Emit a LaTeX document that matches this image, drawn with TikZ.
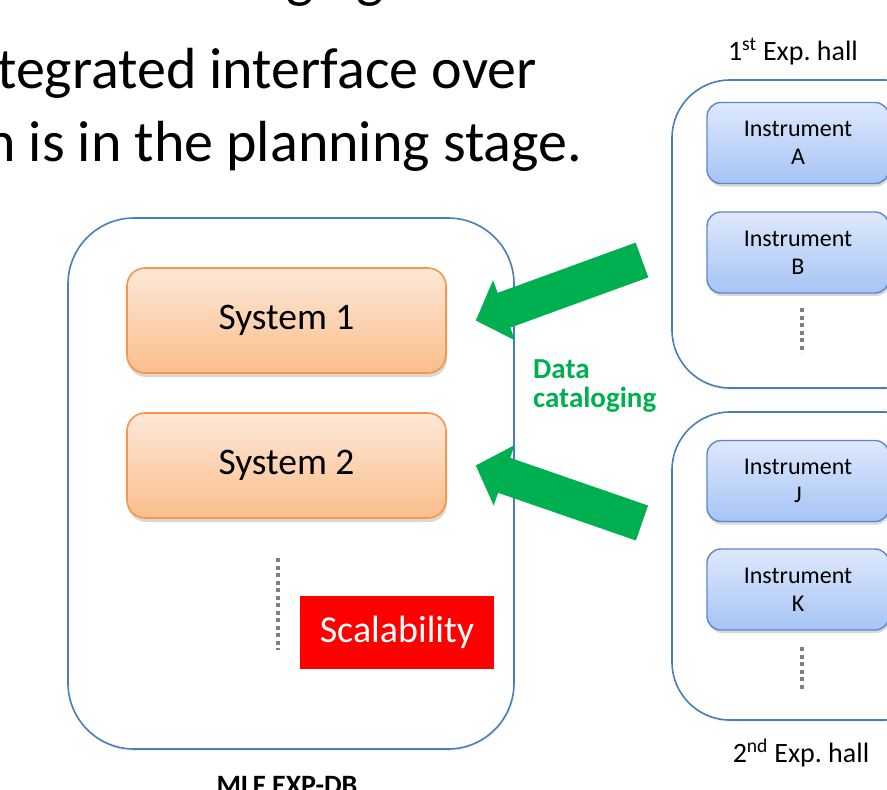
\documentclass[tikz,border=0pt]{standalone}
\usepackage{fontspec}
\setmainfont{Carlito}
\usetikzlibrary{calc,shadows}

\definecolor{hallblue}{RGB}{74,126,187}
\definecolor{sysline}{RGB}{247,150,70}
\definecolor{systop}{RGB}{253,232,216}
\definecolor{sysbot}{RGB}{250,190,140}
\definecolor{instline}{RGB}{95,135,200}
\definecolor{insttop}{RGB}{222,232,252}
\definecolor{instbot}{RGB}{166,196,245}
\definecolor{datagreen}{RGB}{0,176,80}
\definecolor{dotgray}{RGB}{128,128,128}

\tikzset{
  hall/.style={draw=hallblue, line width=1.6pt, fill=white, rounded corners=58pt,
    drop shadow={opacity=0.12, shadow xshift=1pt, shadow yshift=-2pt}},
  sysbox/.style={draw=sysline, line width=1.6pt, rounded corners=18pt,
    top color=systop, bottom color=sysbot, minimum width=319pt, minimum height=105pt,
    font=\fontsize{37.5}{40}\selectfont,
    drop shadow={opacity=0.3, shadow xshift=1pt, shadow yshift=-4pt}},
  instbox/.style={draw=instline, line width=1.4pt, rounded corners=14pt,
    top color=insttop, bottom color=instbot, minimum width=182pt, minimum height=81pt,
    align=center, font=\fontsize{24}{28}\selectfont,
    drop shadow={opacity=0.3, shadow xshift=1pt, shadow yshift=-3pt}},
  dots/.style={draw=dotgray, line width=3.5pt, dash pattern=on 4pt off 3.5pt},
  caption/.style={font=\fontsize{28}{32}\selectfont, anchor=base},
  bigtext/.style={font=\fontsize{58}{74}\selectfont, anchor=base west, inner sep=0pt},
  cattext/.style={text=datagreen, font=\bfseries\fontsize{29}{29}\selectfont,
    anchor=base west, inner sep=0pt},
}

% green block arrow from #1 (tail) to #2 (tip)
\newcommand{\catarrow}[2]{%
  \fill[datagreen] (#2)
    -- ($(#2)!30pt!(#1)!32pt!90:(#1)$)
    -- ($(#2)!30pt!(#1)!18.5pt!90:(#1)$)
    -- ($(#1)!18.5pt!-90:(#2)$)
    -- ($(#1)!18.5pt!90:(#2)$)
    -- ($(#2)!30pt!(#1)!18.5pt!-90:(#1)$)
    -- ($(#2)!30pt!(#1)!32pt!-90:(#1)$)
    -- cycle;}

\begin{document}
\begin{tikzpicture}[x=1pt, y=-1pt]
  \useasboundingbox (0,0) rectangle (887,790);
  \clip (0,0) rectangle (887,790);

  % --- slide text ---
  \node[bigtext] (gl) at (286,-4) {g};
  \node[bigtext] (gr) at (356,-4) {g};
  \node[bigtext] (line1) at (-3,88) {tegrated interface over};
  \node[bigtext] (line2) at (-15,161) {n is in the planning stage.};

  % --- MLF EXP-DB ---
  \node[hall, minimum width=446pt, minimum height=531pt, rounded corners=66pt] (expdb) at (291,483.5) {};
  \node[caption, font=\bfseries\fontsize{28}{32}\selectfont] (expdblbl) at (287,794) {MLF EXP-DB};
  \node[sysbox] (sys1) at (286.5,320.5) {System 1};
  \node[sysbox] (sys2) at (286.5,465.5) {System 2};
  \draw[dots] (278,558) -- (278,650);
  \node[fill=red, minimum width=194pt, minimum height=73pt, text=white,
        font=\fontsize{38}{40}\selectfont] (scal) at (397,632.5) {Scalability};

  % --- 1st Exp. hall ---
  \node[hall, minimum width=270pt, minimum height=308pt] (hall1) at (807,234) {};
  \node[caption] (hall1lbl) at (793,60) {1\textsuperscript{st} Exp.\ hall};
  \node[instbox] (instA) at (798,143) {Instrument\\A};
  \node[instbox] (instB) at (798,252.5) {Instrument\\B};
  \draw[dots] (802,308) -- (802,353);

  % --- 2nd Exp. hall ---
  \node[hall, minimum width=270pt, minimum height=308pt] (hall2) at (807,566) {};
  \node[caption] (hall2lbl) at (801,762) {2\textsuperscript{nd} Exp.\ hall};
  \node[instbox] (instJ) at (798,481) {Instrument\\J};
  \node[instbox] (instK) at (798,589.5) {Instrument\\K};
  \draw[dots] (802,647) -- (802,691);

  % --- data cataloging arrows ---
  \coordinate (tail1) at (642,260);
  \coordinate (tip1) at ([xshift=29pt]sys1.east);
  \coordinate (tail2) at (642,523);
  \coordinate (tip2) at ([xshift=29pt]sys2.east);
  \catarrow{tail1}{tip1}
  \catarrow{tail2}{tip2}
  \node[cattext] (cat1) at (533,378) {Data};
  \node[cattext] (cat2) at (533,407) {cataloging};
\end{tikzpicture}
\end{document}
